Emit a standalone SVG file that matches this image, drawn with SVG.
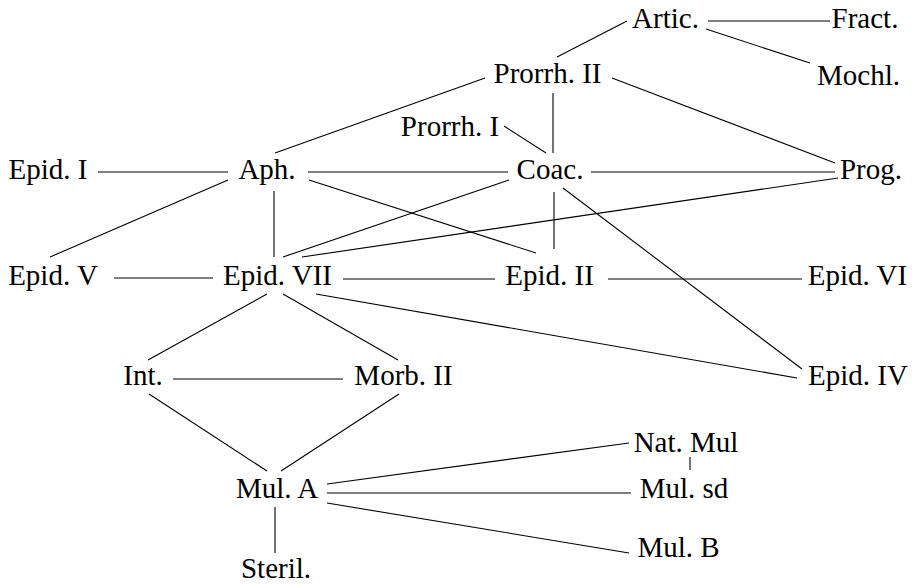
<svg xmlns="http://www.w3.org/2000/svg" width="912" height="584" viewBox="0 0 912 584">
<style>
  .e line { stroke: #000; stroke-width: 1.1; fill: none; }
  .n text { fill: #000; text-anchor: middle; font-family: "Liberation Serif", "Times New Roman", serif; font-size: 29px; }
</style>
<rect width="912" height="584" fill="#fff"/>
<g id="edges" class="e">
  <line x1="708" y1="21" x2="830" y2="21"/>
  <line x1="706" y1="29" x2="810" y2="63"/>
  <line x1="557" y1="57" x2="627" y2="21"/>
  <line x1="612" y1="78" x2="835" y2="163"/>
  <line x1="485" y1="78" x2="275" y2="153"/>
  <line x1="553" y1="93" x2="553" y2="153"/>
  <line x1="504" y1="126" x2="546" y2="153"/>
  <line x1="98" y1="172" x2="228" y2="172"/>
  <line x1="308" y1="172" x2="508" y2="172"/>
  <line x1="591" y1="172" x2="835" y2="172"/>
  <line x1="228" y1="180" x2="50" y2="257"/>
  <line x1="274" y1="191" x2="274" y2="257"/>
  <line x1="309" y1="180" x2="536" y2="253"/>
  <line x1="509" y1="180" x2="283" y2="257"/>
  <line x1="838" y1="178" x2="302" y2="257"/>
  <line x1="554" y1="192" x2="554" y2="249"/>
  <line x1="563" y1="188" x2="802" y2="369"/>
  <line x1="114" y1="278" x2="213" y2="278"/>
  <line x1="343" y1="279" x2="495" y2="279"/>
  <line x1="608" y1="279" x2="802" y2="279"/>
  <line x1="267" y1="294" x2="148" y2="360"/>
  <line x1="283" y1="294" x2="398" y2="360"/>
  <line x1="316" y1="294" x2="797" y2="378"/>
  <line x1="173" y1="379" x2="343" y2="379"/>
  <line x1="149" y1="394" x2="267" y2="471"/>
  <line x1="399" y1="394" x2="281" y2="471"/>
  <line x1="275" y1="507" x2="275" y2="553"/>
  <line x1="327" y1="484" x2="629" y2="443"/>
  <line x1="327" y1="493" x2="631" y2="493"/>
  <line x1="327" y1="503" x2="629" y2="553"/>
  <line x1="690" y1="457" x2="690" y2="470"/>
</g>
<g class="n">
  <g id="artic"><text x="665.5" y="28">Artic.</text></g>
  <g id="fract"><text x="865" y="28">Fract.</text></g>
  <g id="mochl"><text x="858.5" y="85">Mochl.</text></g>
  <g id="prorrh2"><text x="547.5" y="83">Prorrh. II</text></g>
  <g id="prorrh1"><text x="450" y="136">Prorrh. I</text></g>
  <g id="epid1"><text x="48" y="179">Epid. I</text></g>
  <g id="aph"><text x="267" y="179">Aph.</text></g>
  <g id="coac"><text x="550" y="179">Coac.</text></g>
  <g id="prog"><text x="871" y="179">Prog.</text></g>
  <g id="epid5"><text x="53" y="285">Epid. V</text></g>
  <g id="epid7"><text x="277.5" y="285">Epid. VII</text></g>
  <g id="epid2"><text x="549.5" y="285">Epid. II</text></g>
  <g id="epid6"><text x="857.5" y="285">Epid. VI</text></g>
  <g id="int"><text x="143" y="385">Int.</text></g>
  <g id="morb2"><text x="403.5" y="385">Morb. II</text></g>
  <g id="epid4"><text x="858" y="385">Epid. IV</text></g>
  <g id="natmul"><text x="686" y="452">Nat. Mul</text></g>
  <g id="mula"><text x="277" y="498">Mul. A</text></g>
  <g id="mulsd"><text x="684" y="498">Mul. sd</text></g>
  <g id="mulb"><text x="678.5" y="557">Mul. B</text></g>
  <g id="steril"><text x="276" y="578">Steril.</text></g>
</g>
</svg>
